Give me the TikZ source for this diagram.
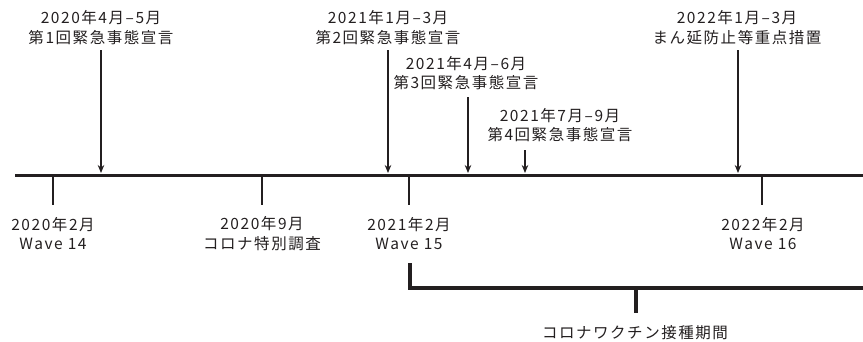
\documentclass[tikz,border=0pt]{standalone}
\usepackage{fontspec}
\newfontfamily\jpfont[LetterSpace=10]{Noto Sans CJK JP}
\usetikzlibrary{arrows.meta}
\definecolor{txt}{HTML}{231F20}
\begin{document}
\begin{tikzpicture}[x=1pt,y=-1pt,
  lbl/.style={align=center, font=\jpfont\fontsize{15.5}{19.5}\selectfont, text=txt, inner sep=0pt},
  arr/.style={draw=txt, line width=1.2pt, -{Stealth[length=8pt,width=6.5pt]}},
  tick/.style={draw=txt, line width=1.2pt},
  axis/.style={draw=txt, line width=3pt},
  brk/.style={draw=txt, line width=4pt}]
\useasboundingbox (0,0) rectangle (863,341);
% timeline
\coordinate (t0) at (15,175);
\coordinate (t1) at (863,175);
\draw[axis] (t0) -- (t1);
% top labels
\node[lbl] (l1) at (101,27.5) {2020年4月–5月\\第1回緊急事態宣言};
\node[lbl] (l2) at (388,27.5) {2021年1月–3月\\第2回緊急事態宣言};
\node[lbl] (l3) at (466,73) {2021年4月–6月\\第3回緊急事態宣言};
\node[lbl] (l4) at (560,125) {2021年7月–9月\\第4回緊急事態宣言};
\node[lbl] (l5) at (737,27.5) {2022年1月–3月\\まん延防止等重点措置};
% arrows
\coordinate (a1s) at (101,50);  \coordinate (a1e) at (101,173);
\coordinate (a2s) at (388,50);  \coordinate (a2e) at (388,173);
\coordinate (a3s) at (468,97);  \coordinate (a3e) at (468,173);
\coordinate (a4s) at (525,150); \coordinate (a4e) at (525,173);
\coordinate (a5s) at (738,50);  \coordinate (a5e) at (738,173);
\draw[arr] (a1s) -- (a1e);
\draw[arr] (a2s) -- (a2e);
\draw[arr] (a3s) -- (a3e);
\draw[arr] (a4s) -- (a4e);
\draw[arr] (a5s) -- (a5e);
% ticks
\coordinate (k1s) at (53,176);  \coordinate (k1e) at (53,205);
\coordinate (k2s) at (262,176); \coordinate (k2e) at (262,205);
\coordinate (k3s) at (409,176); \coordinate (k3e) at (409,205);
\coordinate (k4s) at (762,176); \coordinate (k4e) at (762,205);
\draw[tick] (k1s) -- (k1e);
\draw[tick] (k2s) -- (k2e);
\draw[tick] (k3s) -- (k3e);
\draw[tick] (k4s) -- (k4e);
% bottom labels
\node[lbl] (b1) at (53,233.5) {2020年2月\\Wave 14};
\node[lbl] (b2) at (262,233.5) {2020年9月\\コロナ特別調査};
\node[lbl] (b3) at (409,233.5) {2021年2月\\Wave 15};
\node[lbl] (b4) at (763,233.5) {2022年2月\\Wave 16};
% vaccination bracket
\coordinate (v0) at (410,263);
\coordinate (v1) at (863,288);
\coordinate (vm) at (636,288);
\coordinate (vb) at (636,313);
\draw[brk] (v0) |- (v1);
\draw[brk] (vm) -- (vb);
\node[lbl] (vl) at (635,333) {コロナワクチン接種期間};
\end{tikzpicture}
\end{document}
